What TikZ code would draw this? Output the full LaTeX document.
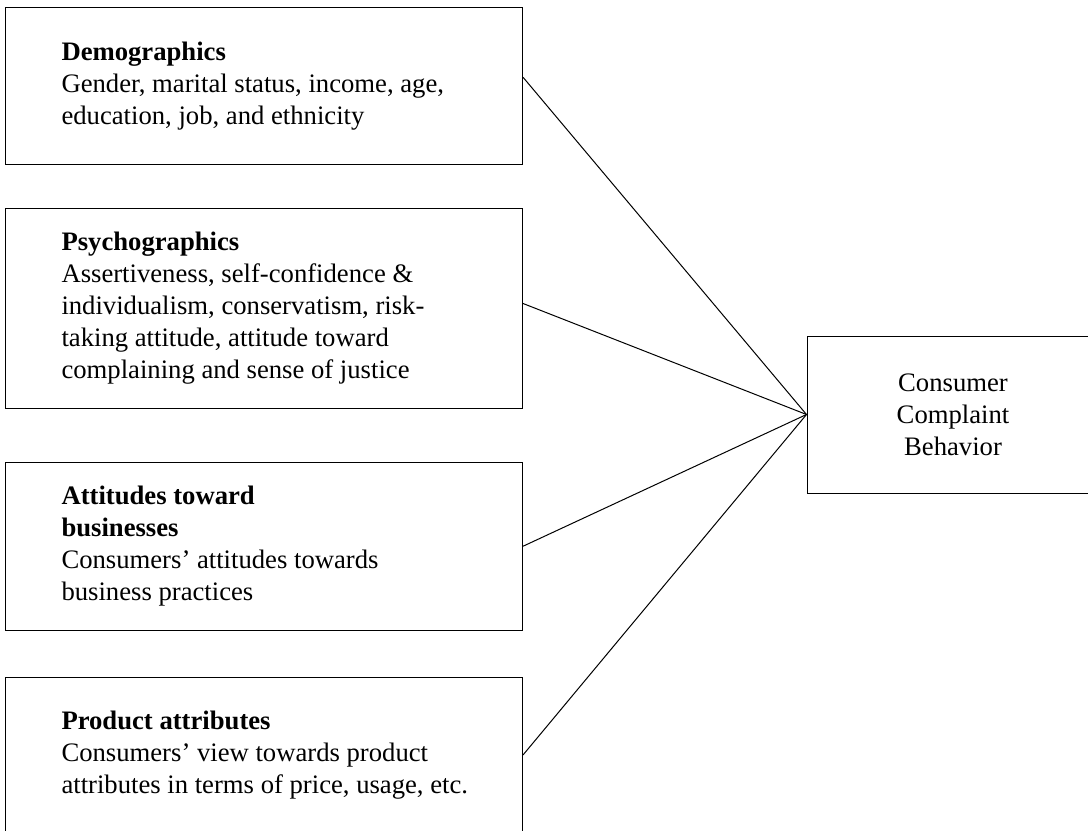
\documentclass[tikz,border=0pt]{standalone}
\usepackage{fontspec}
\setmainfont{Liberation Serif}
\usetikzlibrary{positioning}
\tikzset{every picture/.style={line width=0.75pt}}
\tikzset{
    box/.style={draw, rectangle, minimum width=\boxw*0.75pt, inner sep=0pt},
    boxtext/.style={inner sep=0pt, align=left, font=\fontsize{20}{24}\selectfont}}
\def\boxw{517}
\def\boxx{264}

\begin{document}
\begin{tikzpicture}[x=0.75pt,y=0.75pt,yscale=-1,xscale=1]
            \clip (0,0) rectangle (1088,831);
            %Boxes
            %Demographics
            \node (dem) [box, minimum height=157.5*0.75pt] at (\boxx,86.25) {};
            \node (demtext) [boxtext, right=42pt of dem.west] {\textbf{Demographics}\\Gender, marital status, income, age,\\education, job, and ethnicity};
            %Psychographics
            \node (psy) [box, minimum height=200*0.75pt] at (\boxx,308) {};
            \node (psytext) [boxtext, right=42pt of psy.west] {\textbf{Psychographics}\\Assertiveness, self-confidence \&\\individualism, conservatism, risk-\\taking attitude, attitude toward\\complaining and sense of justice};
            %Attitudes
            \node (att) [box, minimum height=168.5*0.75pt] at (\boxx,546.25) {};
            \node (atttext) [boxtext, right=42pt of att.west] {\textbf{Attitudes toward}\\\textbf{businesses}\\Consumers’ attitudes towards\\business practices};
            %Product
            \node (prod) [box, minimum height=156*0.75pt] at (\boxx,755) {};
            \node (prodtext) [boxtext, right=42pt of prod.west] {\textbf{Product attributes}\\Consumers’ view towards product\\attributes in terms of price, usage, etc.};

            %Consumer complaint behavior
            \node (ccb) [box, minimum width=292*0.75pt, minimum height=157*0.75pt, align=center, font=\fontsize{20}{24}\selectfont] at (953,414.5) {Consumer\\Complaint\\Behavior};

            %Lines
            \draw (dem.2) -- (ccb.west);
            \draw (psy.1) -- (ccb.west);
            \draw (att.east) -- (ccb.west);
            \draw (prod.east) -- (ccb.west);
        \end{tikzpicture}
\end{document}
